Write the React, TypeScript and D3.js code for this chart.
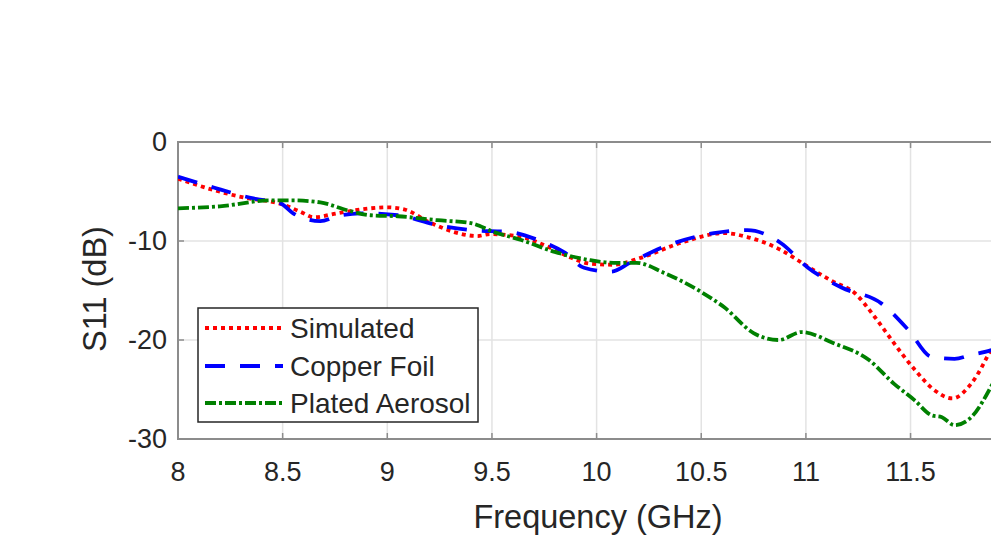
import React from "react";
import * as d3 from "d3";

const xTicks = [8, 8.5, 9, 9.5, 10, 10.5, 11, 11.5, 12];
const xTickLabels = ["8", "8.5", "9", "9.5", "10", "10.5", "11", "11.5"];
const yTicks = [0, -10, -20, -30];

const simFreq = [8.0, 8.17, 8.34, 8.44, 8.5, 8.58, 8.65, 8.76, 8.92, 9.0, 9.08, 9.2, 9.32, 9.43, 9.49, 9.64, 9.77, 9.88, 9.97, 10.08, 10.21, 10.4, 10.61, 10.72, 10.88, 11.01, 11.13, 11.23, 11.33, 11.42, 11.52, 11.61, 11.7, 11.79, 11.89, 11.95];
const simVal = [-3.7, -4.85, -5.7, -6.0, -6.3, -7.0, -7.6, -7.2, -6.7, -6.6, -6.8, -8.1, -9.1, -9.5, -9.3, -9.6, -10.6, -11.7, -12.3, -12.4, -11.7, -10.2, -9.2, -9.6, -10.9, -12.6, -14.1, -15.2, -17.7, -20.3, -23.0, -25.0, -25.9, -24.4, -20.7, -18.0];

const cuFreq = [8.0, 8.17, 8.36, 8.49, 8.55, 8.68, 8.76, 8.87, 9.05, 9.24, 9.4, 9.59, 9.72, 9.85, 9.94, 10.07, 10.16, 10.32, 10.56, 10.72, 10.88, 11.01, 11.17, 11.36, 11.49, 11.6, 11.71, 11.79, 11.89, 11.95];
const cuVal = [-3.5, -4.6, -5.7, -6.2, -7.2, -8.0, -7.5, -7.2, -7.4, -8.4, -8.9, -9.1, -9.9, -11.2, -12.7, -13.1, -12.2, -10.6, -9.2, -8.9, -10.2, -12.7, -14.7, -16.3, -19.0, -21.7, -21.9, -21.5, -21.0, -20.5];

const paFreq = [8.0, 8.2, 8.44, 8.55, 8.68, 8.81, 8.92, 9.05, 9.24, 9.4, 9.51, 9.64, 9.8, 9.96, 10.08, 10.19, 10.32, 10.48, 10.61, 10.75, 10.87, 10.98, 11.13, 11.3, 11.42, 11.52, 11.6, 11.65, 11.71, 11.79, 11.89, 11.95];
const paVal = [-6.7, -6.5, -5.9, -5.9, -6.1, -6.9, -7.4, -7.5, -7.9, -8.2, -9.1, -9.9, -11.1, -11.9, -12.2, -12.2, -13.2, -14.9, -16.7, -19.3, -20.0, -19.2, -20.3, -22.0, -24.4, -26.1, -27.6, -27.8, -28.6, -27.8, -24.5, -22.0];

const seriesNames = ["Simulated", "Copper Foil", "Plated Aerosol"];

const W = 991;
const H = 537;
const left = 178;
const top = 142;
const bottom = 439;
const pxPerGHz = 209.3;

export default function App() {
  const x = d3.scaleLinear().domain([8, 12]).range([left, left + 4 * pxPerGHz]);
  const y = d3.scaleLinear().domain([-30, 0]).range([bottom, top]);
  const line = d3
    .line<[number, number]>()
    .x((d) => x(d[0]))
    .y((d) => y(d[1]))
    .curve(d3.curveMonotoneX);

  const series = [
    { name: seriesNames[0], f: simFreq, v: simVal, color: "#ff0000", dash: "4,4", width: 3.8 },
    { name: seriesNames[1], f: cuFreq, v: cuVal, color: "#0000ff", dash: "20,15", width: 3.8 },
    { name: seriesNames[2], f: paFreq, v: paVal, color: "#008000", dash: "11,3,3,3", width: 3.8 },
  ];

  const right = x(12);
  const textColor = "#262626";
  const axisColor = "#8c8c8c";
  const font = "'Liberation Sans', Arial, Helvetica, sans-serif";

  const legendRows = [328, 366, 403];

  return (
    <svg
      width={W}
      height={H}
      style={{ position: "absolute", left: 0, top: 0, background: "#fff" }}
      fontFamily={font}
    >
      <defs>
        <clipPath id="plotClip">
          <rect x={left} y={top} width={right - left} height={bottom - top} />
        </clipPath>
      </defs>
      <rect x={0} y={0} width={W} height={H} fill="#fff" />
      {/* grid */}
      {xTicks.slice(1, -1).map((t) => (
        <line key={"gx" + t} x1={x(t)} x2={x(t)} y1={top} y2={bottom} stroke="#e3e3e3" strokeWidth={1.5} />
      ))}
      {yTicks.slice(1, -1).map((t) => (
        <line key={"gy" + t} x1={left} x2={right} y1={y(t)} y2={y(t)} stroke="#e3e3e3" strokeWidth={1.5} />
      ))}
      {/* axes box */}
      <rect x={left} y={top} width={right - left} height={bottom - top} fill="none" stroke={axisColor} strokeWidth={2} />
      {xTicks.map((t) => (
        <g key={"tx" + t}>
          <line x1={x(t)} x2={x(t)} y1={bottom} y2={bottom - 6} stroke={axisColor} strokeWidth={1.5} />
          <line x1={x(t)} x2={x(t)} y1={top} y2={top + 6} stroke={axisColor} strokeWidth={1.5} />
        </g>
      ))}
      {yTicks.map((t) => (
        <line key={"ty" + t} x1={left} x2={left + 6} y1={y(t)} y2={y(t)} stroke={axisColor} strokeWidth={1.5} />
      ))}
      {/* tick labels */}
      {xTickLabels.map((lab, i) => (
        <text key={"lx" + lab} x={x(xTicks[i])} y={481} textAnchor="middle" fontSize={27} fill={textColor}>
          {lab}
        </text>
      ))}
      {yTicks.map((t) => (
        <text key={"ly" + t} x={167} y={y(t) + 9} textAnchor="end" fontSize={27} fill={textColor}>
          {String(t)}
        </text>
      ))}
      {/* axis labels */}
      <text x={598} y={528} textAnchor="middle" fontSize={32.5} fill={textColor}>
        Frequency (GHz)
      </text>
      <text transform={`translate(106,289) rotate(-90)`} textAnchor="middle" fontSize={32.5} fill={textColor}>
        S11 (dB)
      </text>
      {/* lines */}
      <g clipPath="url(#plotClip)">
        {series.map((s) => (
          <path
            key={s.name}
            d={line(s.f.map((f, i) => [f, s.v[i]] as [number, number])) || ""}
            fill="none"
            stroke={s.color}
            strokeWidth={s.width}
            strokeDasharray={s.dash}
          />
        ))}
      </g>
      {/* legend */}
      <rect x={198} y={308} width={280} height={114} fill="#fff" stroke="#262626" strokeWidth={1.5} />
      {series.map((s, i) => (
        <g key={"lg" + s.name}>
          <line x1={205} x2={283} y1={legendRows[i]} y2={legendRows[i]} stroke={s.color} strokeWidth={s.width} strokeDasharray={s.dash} />
          <text x={290} y={legendRows[i] + 10} fontSize={28} fill={textColor}>
            {s.name}
          </text>
        </g>
      ))}
    </svg>
  );
}
